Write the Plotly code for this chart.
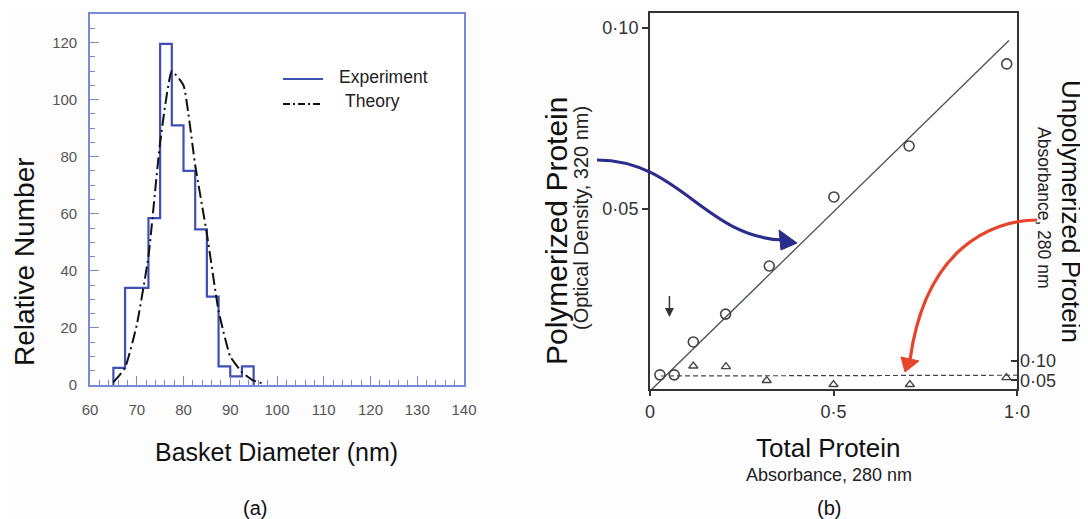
import plotly.graph_objects as go

# The page body has an 8px margin, so the figure is drawn 8px in from the window corner.
OFF = 8
WIN_W, WIN_H = 1088, 519
W, H = WIN_W - OFF, WIN_H - OFF
FONT = "Liberation Sans, Arial, Helvetica, sans-serif"

# ---------------- data: panel (a) ----------------
bin_edges = [65, 67.5, 70, 72.5, 75, 77.5, 80, 82.5, 85, 87.5, 90, 92.5, 95]
exp_counts = [6, 34, 34, 58.5, 119.5, 91, 75, 54.5, 31, 6.5, 3, 6.5]
theory_x = [65, 67.5, 70, 72.5, 75, 77.5, 80, 82.5, 85, 87.5, 90, 92.5, 95, 97.5]
theory_y = [1, 6, 21, 45, 85, 110, 105, 77, 53, 26, 10, 4.5, 1.5, 0.3]

# ---------------- data: panel (b) ----------------
poly_x = [0.027, 0.066, 0.118, 0.206, 0.325, 0.501, 0.706, 0.972]
poly_y = [0.004, 0.004, 0.0131, 0.0208, 0.0341, 0.0532, 0.0673, 0.090]
fit_x = [0.005, 0.978]
fit_y = [0.0, 0.0965]
unpoly_x = [0.118, 0.207, 0.318, 0.5, 0.708, 0.971]
unpoly_y = [0.0872, 0.0854, 0.050, 0.0397, 0.0397, 0.0572]
dash_x = [0.03, 1.0]
dash_y = [0.0615, 0.0635]

AX_BLUE = "#7a88d8"
HIST_BLUE = "#3f50b4"
DARK = "#333333"


def px(x):
    return (x - OFF) / W


def py(y):
    return 1 - (y - OFF) / H


# step coordinates for the histogram (hv shape)
step_x = [bin_edges[0]] + bin_edges[:-1] + [bin_edges[-1]]
step_y = [0] + exp_counts + [0]

fig = go.Figure()

fig.add_trace(go.Scatter(x=step_x, y=step_y, mode="lines", line=dict(color=HIST_BLUE, width=2.2, shape="hv"),
                         xaxis="x", yaxis="y", showlegend=False, hoverinfo="skip"))
fig.add_trace(go.Scatter(x=theory_x, y=theory_y, mode="lines",
                         line=dict(color="#111111", width=2, dash="12px,4px,2px,4px", shape="spline", smoothing=0.4),
                         xaxis="x", yaxis="y", showlegend=False, hoverinfo="skip"))

fig.add_trace(go.Scatter(x=fit_x, y=fit_y, mode="lines", line=dict(color="#4a5250", width=1.3),
                         xaxis="x2", yaxis="y2", showlegend=False, hoverinfo="skip"))
fig.add_trace(go.Scatter(x=poly_x, y=poly_y, mode="markers",
                         marker=dict(symbol="circle-open", size=10, color="#444", line=dict(width=1.6)),
                         xaxis="x2", yaxis="y2", showlegend=False, cliponaxis=False))
fig.add_trace(go.Scatter(x=dash_x, y=dash_y, mode="lines", line=dict(color="#444", width=1.2, dash="5px,3px"),
                         xaxis="x2", yaxis="y3", showlegend=False, hoverinfo="skip"))
fig.add_trace(go.Scatter(x=unpoly_x, y=unpoly_y, mode="markers",
                         marker=dict(symbol="triangle-up-open", size=8, color="#444", line=dict(width=1.3)),
                         xaxis="x2", yaxis="y3", showlegend=False, cliponaxis=False))

tickfont_a = dict(family=FONT, size=15, color="#555")
tickfont_b = dict(family=FONT, size=18, color=DARK)

layout = dict(
    template="none",
    width=W, height=H,
    margin=dict(l=0, r=0, t=0, b=0, pad=0, autoexpand=False),
    paper_bgcolor="#fdfdfe", plot_bgcolor="white",
    showlegend=False,
    xaxis=dict(domain=[px(90), px(464)], range=[60, 140], tick0=60, dtick=10, automargin=False,
               ticks="inside", ticklen=9, tickwidth=1.2, tickcolor=AX_BLUE,
               minor=dict(dtick=2, ticks="inside", ticklen=5, tickcolor=AX_BLUE, tickwidth=1),
               showline=True, linecolor=AX_BLUE, linewidth=1.6, mirror=True,
               showgrid=False, zeroline=False, tickfont=tickfont_a, ticklabelstandoff=10, anchor="y"),
    yaxis=dict(domain=[py(385), py(14)], range=[0, 130], tick0=0, dtick=20, automargin=False,
               ticks="inside", ticklen=9, tickwidth=1.2, tickcolor=AX_BLUE,
               minor=dict(dtick=5, ticks="inside", ticklen=5, tickcolor=AX_BLUE, tickwidth=1),
               showline=True, linecolor=AX_BLUE, linewidth=1.6, mirror=True,
               showgrid=False, zeroline=False, tickfont=tickfont_a, ticklabelstandoff=8, anchor="x"),
    xaxis2=dict(domain=[px(650), px(1017)], range=[0, 1], tickvals=[0, 0.5, 1.0], ticktext=["0", "0·5", "1·0"],
                automargin=False,
                ticks="outside", ticklen=5, tickcolor=DARK, tickwidth=1.5,
                showline=True, linecolor=DARK, linewidth=2, mirror=True,
                showgrid=False, zeroline=False, tickfont=tickfont_b, ticklabelstandoff=0, anchor="y2"),
    yaxis2=dict(domain=[py(389.3), py(13.3)], range=[0, 0.104], tickvals=[0.05, 0.10], ticktext=["0·05", "0·10"],
                automargin=False,
                ticks="outside", ticklen=6, tickcolor=DARK, tickwidth=1.5,
                showline=True, linecolor=DARK, linewidth=2, mirror=True,
                showgrid=False, zeroline=False, tickfont=tickfont_b, ticklabelstandoff=0, anchor="x2"),
    yaxis3=dict(overlaying="y2", side="right", anchor="x2", range=[0.0274, 0.9915], automargin=False,
                tickvals=[0.05, 0.10], ticktext=["0·05", "0·10"],
                ticks="inside", ticklen=6, tickcolor=DARK, tickwidth=1.5,
                showline=False, showgrid=False, zeroline=False, tickfont=tickfont_b, ticklabelstandoff=2),
)
fig.update_layout(**layout)


def ann(text, x, y, size, angle=0, color="#111", xanchor="center"):
    fig.add_annotation(text=text, x=px(x), y=py(y), xref="paper", yref="paper", showarrow=False,
                       textangle=angle, xanchor=xanchor, yanchor="middle",
                       font=dict(family=FONT, size=size, color=color))


# panel (a) texts
ann("Relative Number", 24, 262, 28, angle=-90)
ann("Basket Diameter (nm)", 276, 452, 25)
ann("(a)", 255, 508, 20)
ann("Experiment", 337, 77, 17.5, xanchor="left", color="#222")
ann("Theory", 343, 101, 17.5, xanchor="left", color="#222")

# legend samples
fig.add_shape(type="line", xref="paper", yref="paper", x0=px(283), x1=px(323), y0=py(79), y1=py(79),
              line=dict(color=HIST_BLUE, width=2))
fig.add_shape(type="line", xref="paper", yref="paper", x0=px(283), x1=px(323), y0=py(104), y1=py(104),
              line=dict(color="#111", width=2, dash="7px,3px,2px,3px"))

# panel (b) texts
ann("Polymerized Protein", 556, 231, 30, angle=-90)
ann("(Optical Density, 320 nm)", 581, 218, 20, angle=-90, color="#222")
ann("Unpolymerized Protein", 1071, 211, 26, angle=90)
ann("Absorbance, 280 nm", 1044, 208, 17.5, angle=90, color="#222")
ann("Total Protein", 828, 448, 26)
ann("Absorbance, 280 nm", 829, 475, 18, color="#222")
ann("(b)", 829, 508, 20)

# small down arrow in panel (b)
fig.add_annotation(x=0.053, y=0.0200, ax=0.053, ay=0.0262, xref="x2", yref="y2", axref="x2", ayref="y2",
                   showarrow=True, arrowhead=2, arrowsize=1.2, arrowwidth=1.5, arrowcolor="#333", text="")


def P(x, y):
    return f"{px(x):.5f},{py(y):.5f}"


# blue curved arrow
fig.add_shape(type="path", xref="paper", yref="paper",
              path=f"M {P(597,160)} C {P(680,160)} {P(705,238)} {P(784,240)}",
              line=dict(color="#2b2d8c", width=3.2))
fig.add_shape(type="path", xref="paper", yref="paper",
              path=f"M {P(797,243)} L {P(779,230)} L {P(781,250)} Z",
              fillcolor="#2b2d8c", line=dict(color="#2b2d8c", width=1))

# red curved arrow
fig.add_shape(type="path", xref="paper", yref="paper",
              path=f"M {P(1037,220)} C {P(990,220)} {P(925,250)} {P(910,360)}",
              line=dict(color="#e8442c", width=3.2))
fig.add_shape(type="path", xref="paper", yref="paper",
              path=f"M {P(905,372)} L {P(901,357)} L {P(919,361)} Z",
              fillcolor="#e8442c", line=dict(color="#e8442c", width=1))

fig.write_html("out.html")
